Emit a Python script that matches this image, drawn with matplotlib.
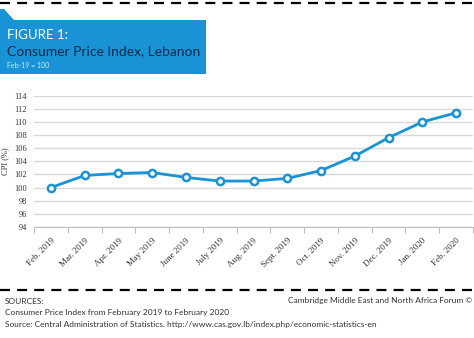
import matplotlib.pyplot as plt
from matplotlib.patches import Polygon
from matplotlib.lines import Line2D
import numpy as np

months = ['Feb. 2019', 'Mar. 2019', 'Apr. 2019', 'May 2019', 'June 2019', 'July 2019',
          'Aug. 2019', 'Sept. 2019', 'Oct. 2019', 'Nov. 2019', 'Dec. 2019', 'Jan. 2020',
          'Feb. 2020']
cpi = [100.0, 101.85, 102.15, 102.3, 101.55, 101.0, 101.0, 101.4, 102.6, 104.8,
       107.6, 110.0, 111.4]
yticks = list(range(94, 116, 2))

blue = '#1a93d6'
navy = '#0b2a4a'
grid_col = '#d9d9d9'
serif = 'Liberation Serif'
sans = 'Lato'

fig = plt.figure(figsize=(4.74, 3.38), dpi=100)
W, H = 474, 338

def fx(px):
    return px / W

def fy(py):
    return 1 - py / H

# dashed frame lines top and bottom
for py in (3, 290):
    fig.add_artist(Line2D([0, 1], [fy(py), fy(py)], color='black', lw=1.6,
                          linestyle=(0, (4.5, 3.2)), transform=fig.transFigure))

# title tab
tab = Polygon([(fx(0), fy(9)), (fx(4), fy(9)), (fx(14), fy(20)), (fx(206), fy(20)),
               (fx(206), fy(74)), (fx(0), fy(74))], closed=True,
              facecolor=blue, edgecolor='none', transform=fig.transFigure)
fig.add_artist(tab)
fig.text(fx(7), fy(35), 'FIGURE 1:', color='white', fontsize=9.5, family=sans,
         va='center', ha='left')
fig.text(fx(7), fy(51), 'Consumer Price Index, Lebanon', color=navy, fontsize=10,
         family=sans, va='center', ha='left')
fig.text(fx(7), fy(66), 'Feb-19 = 100', color='#cfe9f8', fontsize=5, family=sans,
         va='center', ha='left')

ax = fig.add_axes([fx(34), fy(227), fx(473) - fx(34), fy(95.7) - fy(227)])
x = np.arange(len(months))
ax.plot(x, cpi, color=blue, lw=2, marker='o', markersize=5.2,
        markerfacecolor='white', markeredgecolor=blue, markeredgewidth=1.8,
        zorder=3, clip_on=False)

ax.set_xlim(-0.5, len(months) - 0.5)
ax.set_ylim(94, 114)
ax.set_yticks(yticks)
ax.set_yticklabels([str(v) for v in yticks], family=serif, fontsize=6, color='#333333')
ax.yaxis.grid(True, color=grid_col, lw=1)
ax.set_axisbelow(True)
ax.tick_params(axis='y', length=0, pad=5)

ax.set_xticks(x)
ax.set_xticklabels(months, rotation=45, ha='right', rotation_mode='anchor',
                   family=serif, fontsize=6.5, color='#333333')
ax.tick_params(axis='x', which='major', length=0, pad=7)
ax.set_xticks(np.arange(-0.5, len(months), 1), minor=True)
ax.tick_params(axis='x', which='minor', length=4, color='#bfbfbf', width=0.8)

for side in ('top', 'right', 'left'):
    ax.spines[side].set_visible(False)
ax.spines['bottom'].set_color('#bfbfbf')
ax.spines['bottom'].set_linewidth(0.8)

ax.set_ylabel('CPI (%)', family=serif, fontsize=6, color='#333333', labelpad=4)

# footer notes
foot = dict(fontsize=6, family=sans, color='#333333', va='center')
fig.text(fx(5), fy(301), 'SOURCES:', ha='left', **foot)
fig.text(fx(5), fy(313), 'Consumer Price Index from February 2019 to February 2020',
         ha='left', **foot)
fig.text(fx(5), fy(325), 'Source: Central Administration of Statistics. '
         'http://www.cas.gov.lb/index.php/economic-statistics-en', ha='left', **foot)
fig.text(fx(472), fy(301), 'Cambridge Middle East and North Africa Forum \u00a9',
         ha='right', **foot)

fig.savefig('out.png', dpi=100)
